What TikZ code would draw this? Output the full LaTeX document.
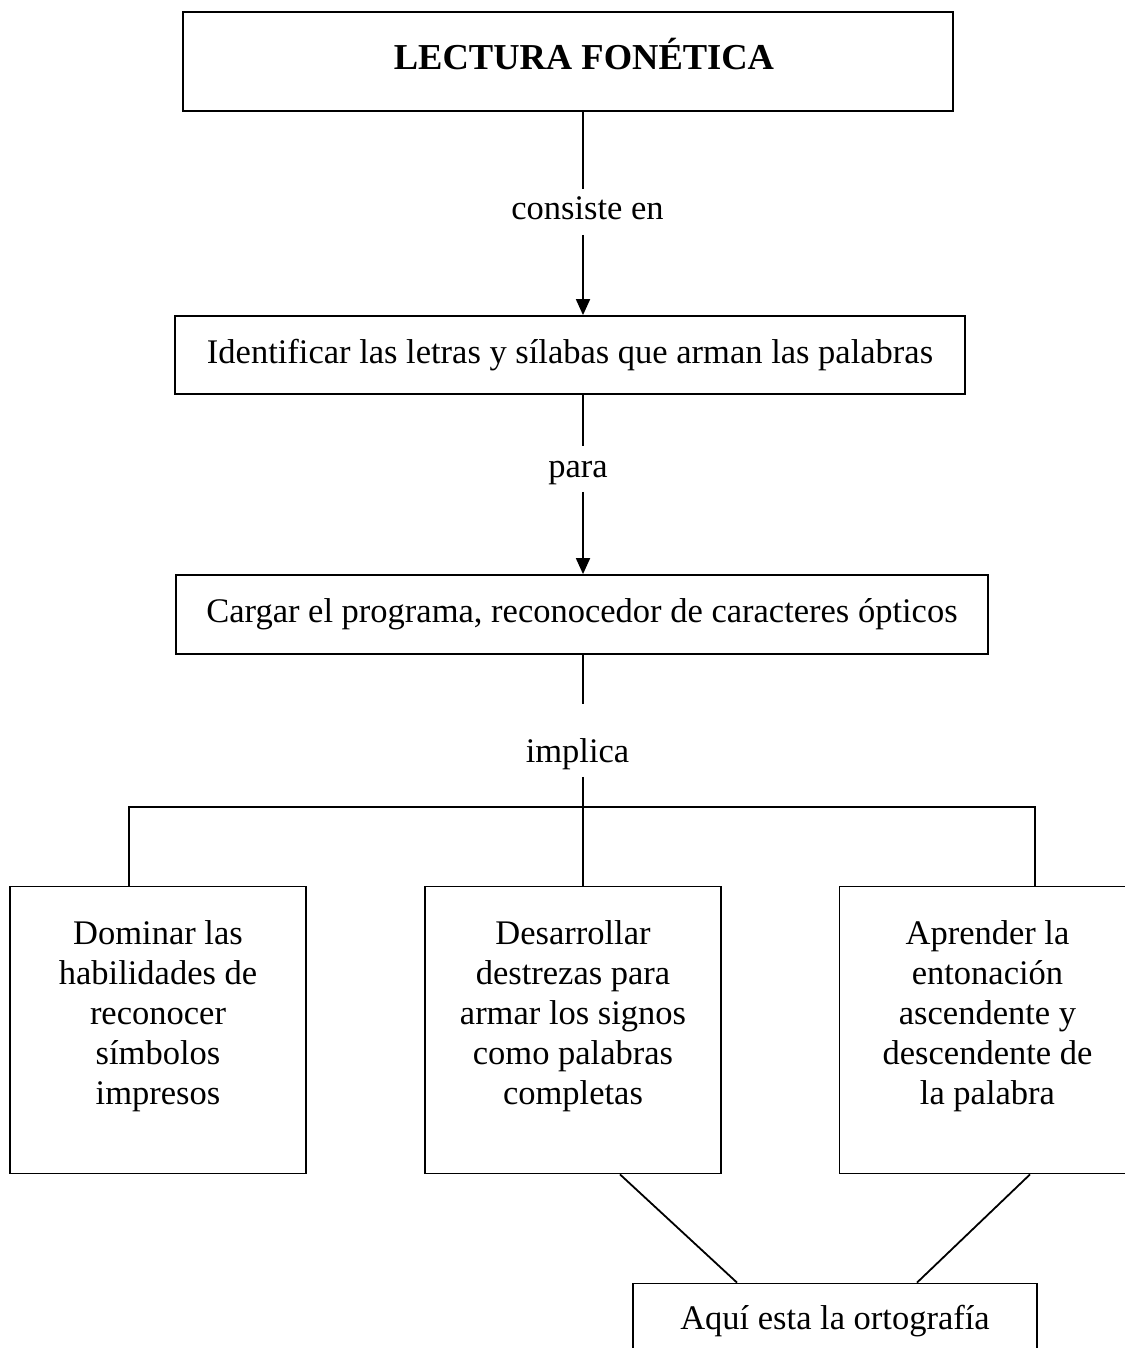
\documentclass[tikz,border=0pt]{standalone}
\usepackage{fontspec}
\setmainfont{Liberation Serif}
\usetikzlibrary{arrows.meta}
\usetikzlibrary{positioning}
\newcommand{\hueco}{\rule[-17pt]{0pt}{17pt}}

\begin{document}
\begin{tikzpicture}[>={Triangle[width=7pt,length=8pt]},
        line width=0.9pt,
        on grid,
        font=\fontsize{17.25}{20}\selectfont,
        concept/.style={draw,inner sep=0pt,text height=12pt,text depth=4pt},
        enlace/.style={inner xsep=0pt,inner ysep=3pt,text height=12pt,text depth=4pt},
        idea/.style={draw,inner sep=0pt,minimum width=148pt,minimum height=143.5pt,text width=140pt,align=flush center}]

  \useasboundingbox (0,0) rectangle (562pt,-674pt);

  \node[concept, minimum width=385pt, minimum height=49.5pt,
        font=\fontsize{18.25}{20}\selectfont\bfseries] (title) at (284pt,-30.75pt) {\hspace*{16pt}LECTURA FONÉTICA};
  \node[enlace]  (consiste) [below right=75.25pt and 9.75pt of title] {consiste en};
  \node[concept, minimum width=395pt, minimum height=39pt] (ident) [below left=71.5pt and 8.75pt of consiste] {Identificar las letras y sílabas que arman las palabras};
  \node[enlace]  (para) [below right=57pt and 4pt of ident] {para};
  \node[concept, minimum width=406pt, minimum height=39.5pt] (cargar) [below right=72.75pt and 2pt of para] {Cargar el programa, reconocedor de caracteres ópticos};
  \node[enlace]  (implica) [below left=69.75pt and 2.25pt of cargar] {implica};

  \node[idea] (desarrollar) [below left=138pt and 2.25pt of implica] {Desarrollar\\ destrezas para\\ armar los signos\\ como palabras\\ completas\hueco};
  \node[idea] (dominar) [left=207.5pt of desarrollar] {Dominar las\\ habilidades de\\ reconocer\\ símbolos\\ impresos\hueco};
  \node[idea] (aprender) [right=207.25pt of desarrollar] {Aprender la\\ entonación\\ ascendente y\\ descendente de\\ la palabra\hueco};
  \node[concept, minimum width=202pt, inner ysep=11pt] (ortografia) [below right=145.75pt and 131pt of desarrollar] {Aquí esta la ortografía};

  \coordinate (trunk) at (291.5pt,0);
  \coordinate (barleft) at (64.5pt,-403.5pt);
  \coordinate (barright) at (517.5pt,-403.5pt);

  \draw (title.south -| trunk) -- (consiste.north -| trunk);
  \draw[->] (consiste.south -| trunk) -- (ident.north -| trunk);
  \draw (ident.south -| trunk) -- (para.north -| trunk);
  \draw[->] (para.south -| trunk) -- (cargar.north -| trunk);
  \draw[shorten >=13.5pt] (cargar.south -| trunk) -- (implica.north -| trunk);
  \draw (implica.south -| trunk) -- (desarrollar.north -| trunk);
  \draw (dominar.north -| barleft) |- (barright) -- (aprender.north -| barright);

  \draw ([xshift=23.5pt]desarrollar.south) -- ([xshift=-49pt]ortografia.north);
  \draw ([xshift=21.25pt]aprender.south) -- ([xshift=41pt]ortografia.north);

\end{tikzpicture}
\end{document}
